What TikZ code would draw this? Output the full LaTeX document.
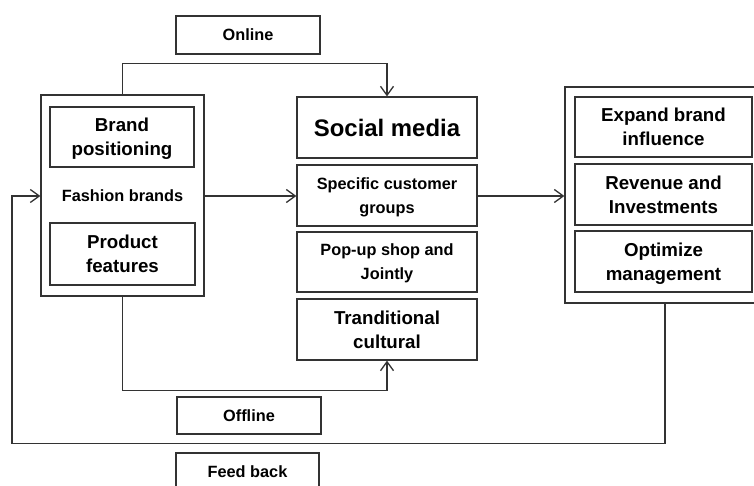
\documentclass[tikz,border=0pt]{standalone}
\usepackage{fontspec}
\setmainfont{Liberation Sans}
\usetikzlibrary{arrows.meta}
\definecolor{ink}{HTML}{333333}
\begin{document}
\begin{tikzpicture}[x=1pt,y=-1pt,
  box/.style={draw=ink, line width=1.2pt, rectangle, inner sep=0pt, align=center, text=black, text depth=0pt},
  fs/.style={font=\bfseries\fontsize{16.3}{24}\selectfont, text=black, align=center},
  fm/.style={font=\bfseries\fontsize{18.7}{24}\selectfont},
  fl/.style={font=\bfseries\fontsize{23.9}{28}\selectfont},
  conn/.style={draw=ink, line width=1.3pt},
  arr/.style={conn, -{Straight Barb[length=9pt,width=13pt]}},
]
\useasboundingbox (0,0) rectangle (754,486);
\clip (0,0) rectangle (754,486);

% labels on connectors
\node[box, fs, minimum width=144, minimum height=38] (online) at (248,35) {Online};
\node[box, fs, minimum width=144, minimum height=37] (offline) at (249,415.5) {Offline};
\node[box, fs, minimum width=143, minimum height=38] (feedback) at (247.5,472) {Feed back};

% left group
\node[box, minimum width=163, minimum height=201] (left) at (122.5,195.5) {};
\node[box, fm, minimum width=144, minimum height=60] (brand) at (122,137) {Brand\\positioning};
\node[fs] (fashion) at (122.5,196) {Fashion brands};
\node[box, fm, minimum width=145, minimum height=62] (product) at (122.5,254) {Product\\features};

% middle column
\node[box, fl, minimum width=180, minimum height=61] (social) at (387,127.5) {Social media};
\node[box, fs, minimum width=180, minimum height=61] (specific) at (387,195.5) {Specific customer\\groups};
\node[box, fs, minimum width=180, minimum height=60] (popup) at (387,262) {Pop-up shop and\\Jointly};
\node[box, fm, minimum width=180, minimum height=61] (trand) at (387,329.5) {Tranditional\\cultural};

% right group
\node[box, minimum width=200, minimum height=216] (right) at (665,195) {};
\node[box, fm, minimum width=177, minimum height=60] (expand) at (663.5,127) {Expand brand\\influence};
\node[box, fm, minimum width=177, minimum height=61] (revenue) at (663.5,194.5) {Revenue and\\Investments};
\node[box, fm, minimum width=177, minimum height=61] (optimize) at (663.5,261.5) {Optimize\\management};

\coordinate (fbcorner) at (12,196);

% connectors
\draw[arr] (left.north) -- ++(0,-31) -| (social.north);
\draw[arr] (left.east |- fashion) -- (specific.west |- fashion);
\draw[arr] (specific.east |- fashion) -- (right.west |- fashion);
\draw[arr] (left.south) -- ++(0,94) -| (trand.south);
\draw[arr] (right.south) -- ++(0,140) -| (fbcorner) -- (left.west |- fashion);
\end{tikzpicture}
\end{document}
